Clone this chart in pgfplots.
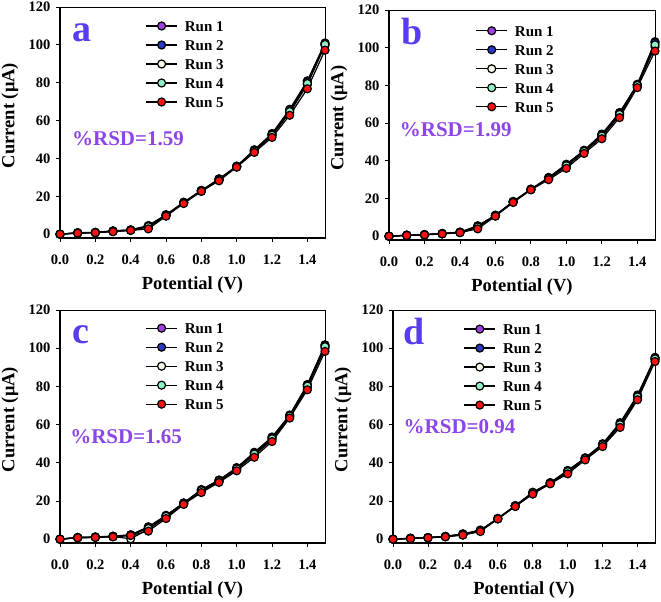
\documentclass[border=0pt]{standalone}
\usepackage{pgfplots}
\pgfplotsset{compat=1.18}
\usepackage{pgfplotstable}
\usepackage{fontspec}
\setmainfont{Liberation Serif}
\definecolor{cone}{HTML}{A040E0}
\definecolor{ctwo}{HTML}{2838C0}
\definecolor{cthree}{HTML}{F5FAE8}
\definecolor{cfour}{HTML}{90F0C8}
\definecolor{cfive}{HTML}{FF1010}
\definecolor{letc}{HTML}{5A3CF0}
\definecolor{rsdc}{HTML}{8B45E8}

\pgfplotstableread{
x r1 r2 r3 r4 r5
0.0 0 0 0 0 0
0.1 0.8 0.7 0.6 0.7 0.6
0.2 1.0 0.9 0.8 0.9 0.8
0.3 1.8 1.7 1.5 1.6 1.3
0.4 2.3 2.2 2.1 2.2 2.0
0.5 4.6 4.4 3.8 4.0 2.8
0.6 10.3 10.2 9.9 10.0 9.5
0.7 16.8 16.9 16.5 16.6 16.2
0.8 23.0 23.2 22.9 23.0 22.6
0.9 29.3 29.0 28.8 28.6 28.2
1.0 36.0 35.8 35.6 35.7 35.4
1.1 44.6 44.3 43.8 44.0 43.2
1.2 53.2 52.8 52.0 52.3 51.1
1.3 66.0 65.5 64.2 64.8 62.8
1.4 81.0 80.5 79.0 79.6 76.8
1.5 101.0 100.6 99.8 100.2 97.2
}\dataA
\pgfplotstableread{
x r1 r2 r3 r4 r5
0.0 0 0 0 0 0
0.1 0.6 0.5 0.5 0.5 0.4
0.2 0.9 0.8 0.8 0.8 0.7
0.3 1.5 1.4 1.3 1.4 1.2
0.4 2.2 2.1 2.0 2.0 1.9
0.5 5.6 5.3 4.6 4.9 3.9
0.6 11.2 11.0 10.8 10.9 10.6
0.7 18.5 18.3 18.1 18.2 17.9
0.8 25.0 24.9 24.7 24.8 24.6
0.9 31.2 31.0 30.5 30.7 30.0
1.0 38.2 37.9 37.0 37.4 36.0
1.1 45.6 45.3 44.7 45.0 43.9
1.2 54.2 53.8 52.8 53.2 51.7
1.3 65.6 65.2 64.0 64.6 62.9
1.4 80.6 80.3 79.6 80.0 78.8
1.5 103.2 102.6 100.5 101.5 98.2
}\dataB
\pgfplotstableread{
x r1 r2 r3 r4 r5
0.0 0 0 0 0 0
0.1 0.9 0.9 0.8 0.8 0.7
0.2 1.2 1.1 1.0 1.0 0.9
0.3 1.6 1.5 1.4 1.4 1.2
0.4 2.3 2.2 0.2 2.1 1.9
0.5 6.5 6.2 5.2 5.6 4.2
0.6 12.5 12.3 11.5 12.0 10.8
0.7 19.0 18.9 18.5 18.7 18.2
0.8 26.0 25.8 25.0 25.4 24.4
0.9 31.0 30.8 30.2 30.5 29.7
1.0 37.5 37.2 36.5 36.8 35.8
1.1 45.5 45.2 44.0 44.6 42.9
1.2 53.5 53.2 52.0 52.6 51.1
1.3 65.0 64.8 64.0 64.4 63.4
1.4 81.0 80.8 79.5 80.2 78.2
1.5 101.8 101.5 100.0 100.8 98.3
}\dataC
\pgfplotstableread{
x r1 r2 r3 r4 r5
0.0 0 0 0 0 0
0.1 0.5 0.5 0.4 0.4 0.3
0.2 0.9 0.8 0.8 0.8 0.7
0.3 1.5 1.4 1.3 1.4 1.2
0.4 2.8 2.7 2.4 2.5 2.1
0.5 4.8 4.6 4.3 4.5 4.0
0.6 10.9 10.8 10.7 10.7 10.6
0.7 17.6 17.5 17.3 17.4 17.1
0.8 24.6 24.4 24.0 24.2 23.6
0.9 29.6 29.5 29.2 29.4 29.0
1.0 36.0 35.7 35.0 35.4 34.2
1.1 42.6 42.4 42.0 42.2 41.5
1.2 50.0 49.7 49.0 49.4 48.5
1.3 61.0 60.6 59.5 60.0 58.5
1.4 75.5 75.0 74.0 74.5 73.0
1.5 95.2 94.8 94.0 94.4 93.0
}\dataD

\pgfplotsset{
  panel/.style={
    scale only axis,
    anchor=north west,
    xmin=0, xmax=1.5, ymin=-2, ymax=120,
    clip=false,
    xtick={0,0.2,0.4,0.6,0.8,1.0,1.2,1.4},
    xticklabels={0.0,0.2,0.4,0.6,0.8,1.0,1.2,1.4},
    ytick={0,20,40,60,80,100,120},
    yticklabels={0,20,40,60,80,100,120},
    tick align=outside,
    major tick length=4pt,
    xtick pos=bottom, ytick pos=left,
    tick style={black, line width=0.8pt},
    axis line style={black, line width=0.8pt},
    ticklabel style={font=\bfseries\fontsize{14.5}{14.5}\selectfont},
    xticklabel style={yshift=-9pt},
    yticklabel style={xshift=-2pt},
    label style={font=\bfseries\fontsize{18.5}{18.5}\selectfont},
    xlabel={Potential (V)},
    ylabel={Current (μA)},
    xlabel style={at={(axis description cs:0.5,0)}, anchor=base, yshift=-52pt},
    ylabel style={at={(axis description cs:0,0.53)}, anchor=center, yshift=50pt},
    legend cell align=left,
    legend style={draw=none, fill=none, anchor=north west,
      font=\bfseries\fontsize{15}{15}\selectfont,
      nodes={inner sep=0pt, text height=10.5pt, text depth=0pt},
      row sep=8.5pt, column sep=7pt},
    legend image code/.code={\draw[mark repeat=2,mark phase=2] plot coordinates {(0cm,0cm)(0.55cm,0cm)(1.1cm,0cm)};},
    every axis plot/.append style={line width=1.2pt, mark=*, mark size=4pt,
      mark options={draw=black, line width=0.9pt}},
  },
  r1/.style={draw=black, mark options={fill=cone}},
  r2/.style={draw=black, mark options={fill=ctwo}},
  r3/.style={draw=black, mark options={fill=cthree}},
  r4/.style={draw=black, mark options={fill=cfour}},
  r5/.style={draw=black, mark options={fill=cfive}},
}

\newcommand{\runs}[1]{%
  \addplot[r1] table[x=x,y=r1]{#1}; \addlegendentry{Run 1}
  \addplot[r2] table[x=x,y=r2]{#1}; \addlegendentry{Run 2}
  \addplot[r3] table[x=x,y=r3]{#1}; \addlegendentry{Run 3}
  \addplot[r4] table[x=x,y=r4]{#1}; \addlegendentry{Run 4}
  \addplot[r5] table[x=x,y=r5]{#1}; \addlegendentry{Run 5}
  \draw[black, line width=2pt] (rel axis cs:0,1) -- (rel axis cs:0,0) -- (rel axis cs:1,0);
}

\begin{document}
\begin{tikzpicture}
\useasboundingbox (0pt,0pt) rectangle (661pt,602pt);

\begin{axis}[panel, at={(60pt,595pt)}, width=265pt, height=231pt,
  legend style={at={(0.31,0.95)}}]
\runs{\dataA}
\node[anchor=base west, text=letc, font=\bfseries\fontsize{38}{38}\selectfont, inner sep=0pt] at (rel axis cs:0.045,0.852) {a};
\node[anchor=base west, text=rsdc, font=\bfseries\fontsize{21}{21}\selectfont, inner sep=0pt] at (rel axis cs:0.045,0.40) {\%RSD=1.59};
\end{axis}

\begin{axis}[panel, at={(389pt,592pt)}, width=266pt, height=230pt,
  legend style={at={(0.313,0.942)}}]
\runs{\dataB}
\node[anchor=base west, text=letc, font=\bfseries\fontsize{38}{38}\selectfont, inner sep=0pt] at (rel axis cs:0.048,0.85) {b};
\node[anchor=base west, text=rsdc, font=\bfseries\fontsize{21}{21}\selectfont, inner sep=0pt] at (rel axis cs:0.04,0.45) {\%RSD=1.99};
\end{axis}

\begin{axis}[panel, at={(60pt,292pt)}, width=265pt, height=233pt,
  legend style={at={(0.31,0.954)}}]
\runs{\dataC}
\node[anchor=base west, text=letc, font=\bfseries\fontsize{38}{38}\selectfont, inner sep=0pt] at (rel axis cs:0.045,0.857) {c};
\node[anchor=base west, text=rsdc, font=\bfseries\fontsize{21}{21}\selectfont, inner sep=0pt] at (rel axis cs:0.038,0.426) {\%RSD=1.65};
\end{axis}

\begin{axis}[panel, at={(393pt,292pt)}, width=262pt, height=233pt,
  legend style={at={(0.257,0.95)}}]
\runs{\dataD}
\node[anchor=base west, text=letc, font=\bfseries\fontsize{38}{38}\selectfont, inner sep=0pt] at (rel axis cs:0.04,0.85) {d};
\node[anchor=base west, text=rsdc, font=\bfseries\fontsize{21}{21}\selectfont, inner sep=0pt] at (rel axis cs:0.04,0.472) {\%RSD=0.94};
\end{axis}
\end{tikzpicture}
\end{document}
